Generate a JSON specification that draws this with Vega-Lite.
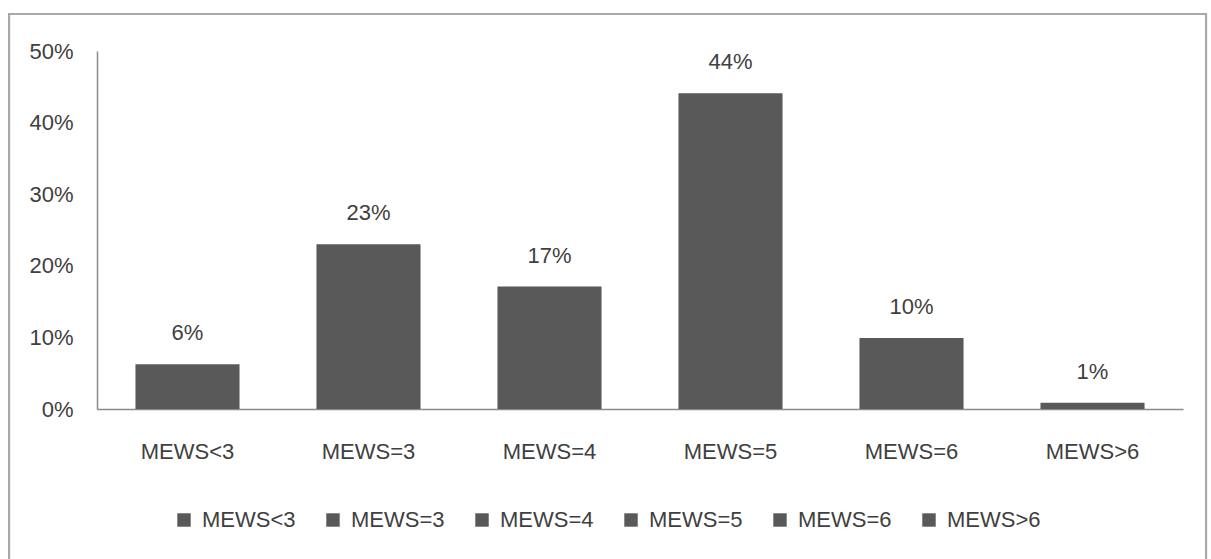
{
  "$schema": "https://vega.github.io/schema/vega-lite/v6.json",
  "width": 1086,
  "height": 358,
  "padding": {"left": 8, "top": 12, "right": 0, "bottom": 0},
  "background": "white",
  "data": {
    "values": [
      {"cat": "MEWS<3", "value": 0.0624},
      {"cat": "MEWS=3", "value": 0.230},
      {"cat": "MEWS=4", "value": 0.171},
      {"cat": "MEWS=5", "value": 0.441},
      {"cat": "MEWS=6", "value": 0.099},
      {"cat": "MEWS>6", "value": 0.0088}
    ]
  },
  "config": {
    "view": {"stroke": null},
    "font": "Liberation Sans",
    "axis": {
      "labelFont": "Liberation Sans",
      "labelFontSize": 22,
      "labelColor": "#404040",
      "domainColor": "#8a8a8a",
      "domainWidth": 1.5,
      "ticks": false,
      "grid": false,
      "title": null
    },
    "legend": {
      "labelFont": "Liberation Sans",
      "labelFontSize": 22,
      "labelColor": "#404040"
    }
  },
  "layer": [
    {
      "layer": [
        {
          "mark": {"type": "bar", "color": "#595959"},
          "encoding": {
            "color": {
              "field": "cat",
              "type": "nominal",
              "scale": {
                "domain": ["MEWS<3", "MEWS=3", "MEWS=4", "MEWS=5", "MEWS=6", "MEWS>6"],
                "range": ["#595959", "#595959", "#595959", "#595959", "#595959", "#595959"]
              },
              "legend": {
                "title": null,
                "orient": "none",
                "direction": "horizontal",
                "legendX": 76,
                "legendY": 458,
                "symbolType": "square",
                "symbolSize": 180,
                "symbolStrokeWidth": 0,
                "symbolOpacity": 1,
                "labelOffset": 7,
                "columnPadding": 26,
                "gridAlign": "all",
                "padding": 0
              }
            }
          }
        },
        {
          "mark": {"type": "text", "baseline": "middle", "dy": -31, "fontSize": 22, "color": "#404040", "font": "Liberation Sans"},
          "encoding": {
            "text": {"field": "value", "type": "quantitative", "format": ".0%"}
          }
        }
      ],
      "encoding": {
        "x": {
          "field": "cat",
          "type": "nominal",
          "sort": null,
          "scale": {"type": "band", "paddingInner": 0.425, "paddingOuter": 0.2125},
          "axis": {"labelAngle": 0, "labelPadding": 32}
        },
        "y": {
          "field": "value",
          "type": "quantitative",
          "scale": {"domain": [0, 0.5], "nice": false},
          "axis": {"values": [0, 0.1, 0.2, 0.3, 0.4, 0.5], "format": ".0%", "labelPadding": 24}
        }
      }
    },
    {
      "mark": {"type": "rect", "filled": false, "stroke": "#a8a8a8", "strokeWidth": 2, "clip": false},
      "encoding": {
        "x": {"datum": -0.081, "type": "quantitative", "scale": {"domain": [0, 1], "nice": false, "zero": false}, "axis": null},
        "x2": {"datum": 1.0212},
        "y": {"datum": 0.5517, "type": "quantitative"},
        "y2": {"datum": -0.22}
      }
    }
  ],
  "resolve": {"scale": {"x": "independent"}, "axis": {"x": "independent"}}
}
